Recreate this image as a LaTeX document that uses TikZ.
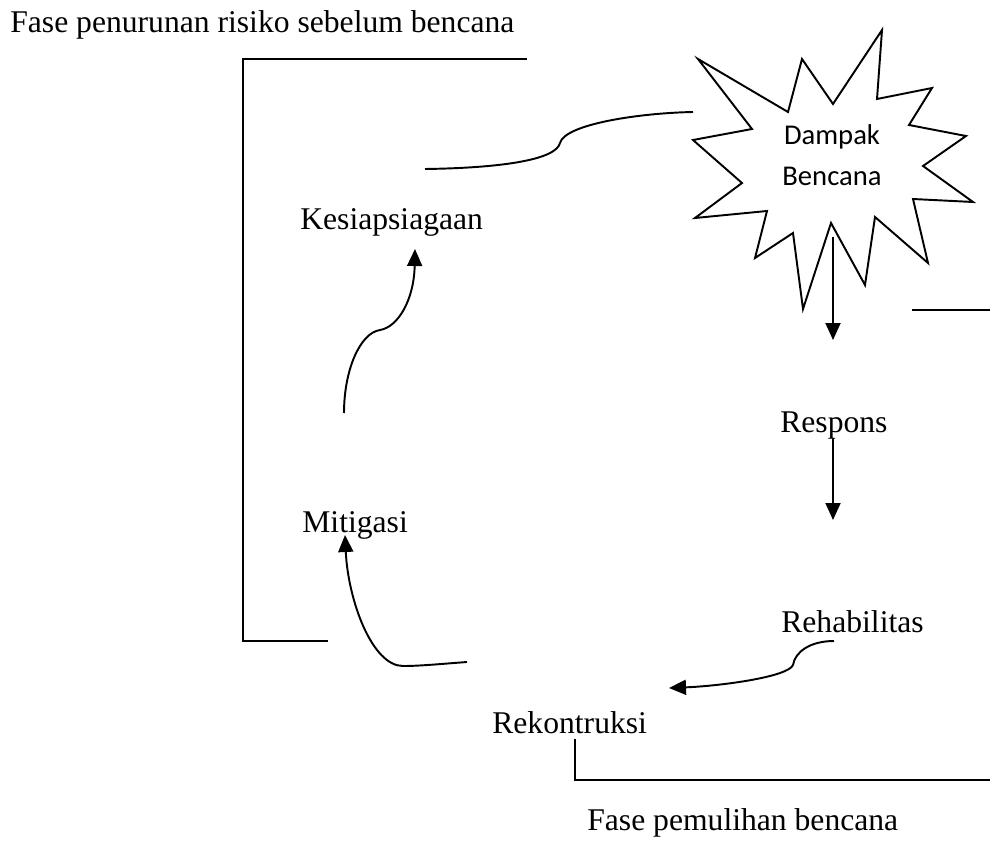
\documentclass[tikz,border=0pt]{standalone}
\usepackage{fontspec}
\setmainfont{Liberation Serif}
\newfontfamily\calibrifont{Carlito}
\usetikzlibrary{arrows.meta}

\begin{document}
\begin{tikzpicture}[
  x=0.02cm,y=-0.02cm,
  txt/.style={font=\fontsize{18}{21.6}\selectfont,inner sep=0pt,anchor=base west},
  starlabel/.style={font=\calibrifont\fontsize{16.3}{23.9}\selectfont,inner sep=0pt,align=center,anchor=base},
  line/.style={line width=1.1pt},
  arr/.style={line width=1.1pt,-{Triangle[length=0.34cm,width=0.3cm]}}
]
  \useasboundingbox (0,0) rectangle (990,841);
  \node[txt] (fase1) at (10,33) {Fase penurunan risiko sebelum bencana};
  \node[txt] (kesiap) at (300,230) {Kesiapsiagaan};
  \node[txt] (mitigasi) at (302,532) {Mitigasi};
  \node[txt] (respons) at (780,432) {Respons};
  \node[txt] (rehab) at (781,632) {Rehabilitas};
  \node[txt] (rekon) at (492,733) {Rekontruksi};
  \node[txt] (fase2) at (587,830) {Fase pemulihan bencana};

  \draw[line,line join=miter] (698,59) -- (788,112) -- (802,59) -- (833,104) -- (882,30) -- (877,99)
    -- (932,88) -- (909,125) -- (966,136) -- (923,166) -- (973,202) -- (913,199)
    -- (928,263) -- (875,217) -- (865,285) -- (831,223) -- (803,309) -- (793,233)
    -- (755,258) -- (767,211) -- (695,218) -- (742,183) -- (693,140) -- (752,129) -- cycle;
  \node[starlabel] (dampak) at (832,186) {Dampak\\Bencana};

  \coordinate (kesiapOut) at (425,169);
  \coordinate (starWest) at (693,112);
  \coordinate (starOut) at (833,237);
  \coordinate (responsIn) at (833,340);
  \coordinate (responsOut) at (833,438);
  \coordinate (rehabIn) at (833,520);
  \coordinate (rehabOut) at (834,641);
  \coordinate (rekonIn) at (669,688);
  \coordinate (rekonOut) at (467,662);
  \coordinate (mitigasiIn) at (345,535);
  \coordinate (mitigasiOut) at (344,413);
  \coordinate (kesiapIn) at (415,249);

  \draw[line] (kesiapOut) .. controls (500,168) and (556,160) .. (560,143)
    .. controls (565,124) and (640,113) .. (starWest);
  \draw[arr] (starOut) -- (responsIn);
  \draw[arr] (responsOut) -- (rehabIn);
  \draw[arr] (rehabOut) .. controls (810,641) and (795,652) .. (793,665)
    .. controls (788,677) and (720,686) .. (rekonIn);
  \draw[arr] (rekonOut) .. controls (440,664) and (420,666) .. (403,666)
    .. controls (372,666) and (348,600) .. (mitigasiIn);
  \draw[arr] (mitigasiOut) .. controls (344,370) and (360,333) .. (380,330)
    .. controls (398,327) and (414,300) .. (kesiapIn);

  \draw[line] (527,59) -- (243,59) -- (243,641) -- (328,641);
  \draw[line] (912,310) -- (990,310);
  \draw[line] (575,739) -- (575,780) -- (990,780);
\end{tikzpicture}
\end{document}
